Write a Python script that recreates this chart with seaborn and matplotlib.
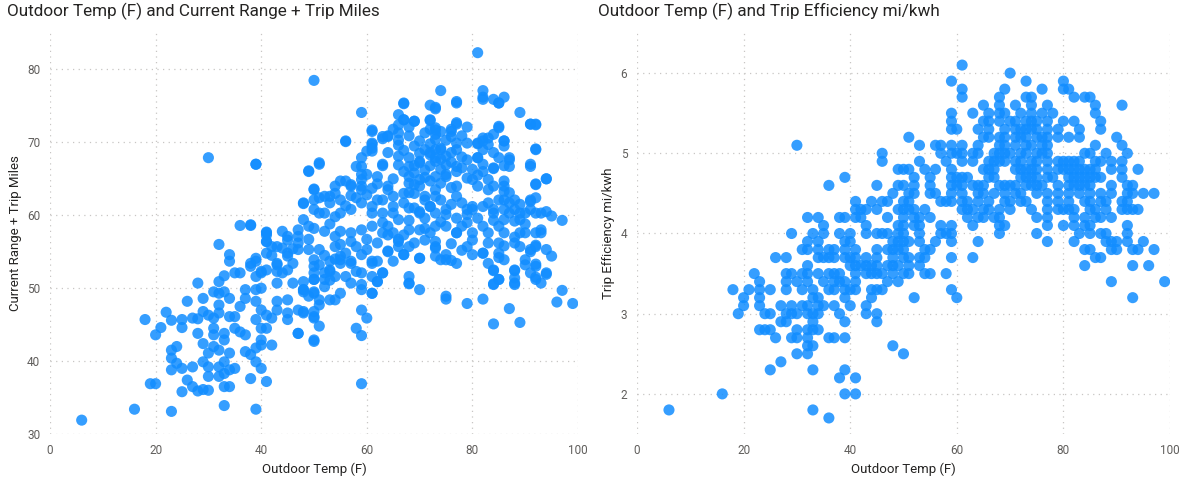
import matplotlib
matplotlib.use("Agg")
import matplotlib.pyplot as plt
import seaborn as sns
import pandas as pd

# ----------------------------------------------------------
# Left chart: outdoor temp vs current range + trip miles
# ----------------------------------------------------------
range_temp = [
    50, 30, 39, 36, 38, 41, 50, 49, 51, 48,
    81, 74, 82, 82, 84, 85, 86, 67, 72, 73, 77, 59, 89, 91, 92, 92, 91, 94, 92, 97, 95, 56,
    67, 73, 77, 82, 85,
    66, 67, 69, 72, 73, 77, 79,
    61, 64, 63, 66, 68, 71, 73, 74, 76, 78,
    85, 84, 82, 81, 79, 86, 86, 56, 91, 92,
    61, 61, 59, 58, 59, 39, 51, 49,
    64, 66, 68, 70, 72, 73, 74, 76, 77, 79,
    81, 84, 85, 87, 87, 84, 82,
    92, 91, 92, 94, 63,
    67, 68, 70, 72, 70, 68,
    73, 75, 77, 79, 80, 80, 82,
    83, 83, 86, 86, 88, 87,
    92, 91, 92, 94,
    55, 57, 59, 61, 62,
    50, 53, 55, 53, 51, 48,
    64, 65, 67, 69, 71, 73,
    59, 61, 57, 55, 54, 51,
    63, 65, 68, 70, 72,
    73, 75, 77, 79, 80, 82, 84, 86, 87, 89,
    48, 49, 47, 45, 43, 41, 41, 38, 39, 38,
    52, 54, 55, 57, 59, 61, 63, 65, 66, 68, 70, 71,
    73, 75, 77, 78, 80, 82, 83, 85, 86, 89, 90, 92, 93,
    49, 51, 54, 56, 58, 60, 62, 64, 66,
    67, 70, 73, 73, 75, 77, 79, 82, 85, 85, 88, 89, 91, 92, 94,
    45, 43, 41, 40, 39, 44, 43, 46, 48, 50,
    50, 52, 53, 55, 57, 59, 61, 62, 63,
    68, 68, 70, 75,
    83, 84, 85, 88, 88, 91, 92, 92, 94, 84,
    57, 59, 61, 53, 55, 52,
    6, 16, 23, 33, 39,
    19, 20, 25, 28, 29, 30,
    26, 27, 27, 23, 24, 23, 24, 23, 25,
    30, 30, 29, 30, 29, 28,
    32, 32, 33, 34, 33, 34, 35, 33, 32, 31,
    34, 33, 31, 31, 33, 34, 35, 35, 36, 37, 37, 38, 39, 40, 42, 39, 40, 38, 41,
    18, 20, 21, 22, 23, 25, 25, 26, 27, 28, 29, 29, 30, 31, 32, 32, 34, 31, 32, 33,
    28, 32, 33, 35, 37, 36, 37, 39, 39, 40, 40, 39, 41, 41, 40, 40,
    32, 34, 34, 36, 38, 39, 40,
    41, 41, 41, 42, 44, 43, 43, 45, 45, 45, 46, 47, 47, 48, 49, 50, 50, 50, 47,
    45, 45, 43, 43, 42, 45, 47, 48, 50, 49,
    59, 59, 60, 58, 59, 50, 51, 50, 48, 50, 47,
    53, 54, 51, 51, 61, 62, 63, 61,
    68, 70,
    75, 79, 82, 84, 87, 89, 96, 97, 99,
    95, 94, 93, 92, 92,
    88, 88, 88, 85, 84, 84, 86, 85, 82,
    90, 90, 91, 92, 93,
    74, 75, 76, 73, 73, 72, 80, 77,
    65, 64, 67, 68, 66, 64,
    57, 55, 55, 53, 53, 51, 50, 50, 48, 48, 50, 52, 54, 56, 58, 59, 59, 61, 62,
    61, 63, 64, 65, 66, 66, 67, 68, 69, 66,
    72, 72, 73, 76, 77, 76, 77,
    81, 82, 83, 85, 86, 87, 86, 84, 82, 83, 81,
    59, 60, 61, 61, 59, 60, 62, 63, 57, 59,
    68, 69, 70, 71, 72, 73, 74, 75, 73, 74, 75, 77, 77,
    81, 81, 84, 86, 87, 86, 88, 86,
    91, 93, 91, 90, 89, 88,
    56, 54, 54, 52, 50, 50, 52,
    63, 64, 65, 67, 68, 69, 70, 71, 72, 73, 74, 75, 77, 78, 79, 80, 83, 84,
    # denser core, read from the crowded middle of the cloud
    69, 70, 71, 72, 73, 74, 75, 76, 70, 69, 72, 75, 78, 78, 71, 69, 74, 76, 67, 66,
    65, 62, 60, 58, 56, 57, 61, 63, 66, 68, 71, 74, 76, 79, 81, 84, 85, 89, 90, 88,
    86, 83, 80, 78, 76, 71, 69, 67, 64, 60, 57, 55, 53, 50, 47, 46, 44, 42, 52, 54,
]
range_miles = [
    78.5, 67.9, 67.0, 58.6, 58.6, 57.7, 63.5, 66.0, 67.0, 61.6,
    82.3, 77.1, 77.1, 76.2, 75.9, 75.4, 76.2, 75.3, 75.1, 74.6, 75.6, 74.1, 74.1, 72.5, 72.4, 69.1, 67.0, 65.0, 64.3, 59.3, 59.9, 70.1,
    75.4, 74.8, 75.4, 75.9, 75.4,
    73.8, 73.1, 72.9, 73.1, 72.0, 72.5, 72.1,
    71.5, 70.9, 70.5, 71.3, 70.9, 71.3, 71.1, 71.5, 71.5, 70.9,
    72.2, 71.1, 70.6, 69.9, 69.9, 70.2, 69.5, 70.2, 72.5, 72.5,
    69.9, 68.8, 67.9, 66.7, 65.6, 67.0, 67.2, 66.1,
    68.6, 68.1, 67.9, 67.4, 68.6, 69.0, 69.0, 68.6, 69.0, 67.6,
    67.9, 68.6, 67.9, 67.6, 66.7, 66.5, 67.0,
    69.0, 66.7, 64.2, 65.0, 67.0,
    66.0, 65.3, 64.9, 64.7, 64.0, 64.4,
    65.3, 65.6, 66.0, 65.1, 66.3, 64.9, 66.0,
    64.9, 63.5, 64.7, 63.3, 62.1, 61.7,
    62.4, 61.9, 60.3, 60.5,
    64.7, 64.2, 63.5, 63.7, 62.1,
    63.6, 62.6, 62.1, 61.7, 62.4, 61.7,
    64.0, 62.6, 63.0, 63.0, 62.1, 62.6,
    61.7, 60.3, 60.8, 60.3, 59.8, 60.3,
    60.3, 60.3, 61.0, 60.5, 61.2,
    60.3, 60.1, 59.6, 60.1, 60.8, 61.2, 60.8, 59.4, 60.3, 60.3,
    59.4, 58.5, 58.0, 57.1, 55.7, 57.3, 56.4, 58.7, 54.1, 53.4,
    57.8, 57.1, 57.8, 57.6, 58.0, 58.5, 57.6, 57.6, 56.7, 58.0, 58.0, 58.2,
    58.5, 58.5, 57.6, 58.5, 57.6, 58.5, 57.6, 58.5, 57.6, 57.6, 57.6, 57.6, 58.0,
    56.7, 55.3, 55.7, 54.8, 55.7, 55.3, 56.2, 55.1, 55.7,
    54.6, 54.1, 55.7, 54.4, 53.9, 53.4, 55.7, 54.8, 56.2, 54.8, 56.2, 55.7, 55.3, 55.7, 55.3,
    54.4, 53.2, 52.5, 52.1, 51.6, 52.1, 50.7, 50.7, 49.8, 49.3,
    53.0, 52.1, 52.5, 53.9, 53.4, 52.1, 53.4, 50.9, 52.1,
    51.6, 50.7, 49.8, 48.9,
    53.4, 52.5, 51.2, 52.5, 50.7, 52.1, 53.0, 51.2, 52.1, 50.5,
    50.7, 49.8, 49.3, 51.1, 49.3, 50.2,
    31.9, 33.4, 33.1, 33.9, 33.4,
    36.9, 36.9, 35.8, 35.9, 36.1, 36.0,
    37.4, 36.5, 39.2, 38.8, 39.7, 40.4, 42.0, 41.5, 39.0,
    37.9, 39.2, 39.9, 41.1, 42.4, 43.8,
    39.2, 37.9, 38.3, 38.8, 36.5, 36.5, 39.0, 39.9, 41.5, 42.0,
    41.1, 42.9, 44.5, 43.6, 43.8, 46.1, 46.1, 44.5, 44.0, 43.6, 41.3, 40.9, 41.8, 42.2, 42.2, 39.9, 39.0, 37.6, 37.2,
    45.7, 43.6, 44.6, 46.7, 45.6, 45.7, 44.6, 48.2, 45.9, 45.8, 46.8, 48.6, 46.3, 45.9, 46.6, 47.7, 48.6, 49.5, 49.3, 49.5,
    50.7, 50.9, 51.7, 52.1, 49.8, 47.5, 48.6, 48.2, 49.8, 50.0, 47.0, 45.7, 46.3, 44.5, 44.5, 42.9,
    56.0, 54.6, 53.7, 52.1, 53.0, 53.7, 52.3,
    57.6, 56.4, 54.8, 55.7, 55.5, 53.4, 52.3, 56.6, 54.8, 52.5, 53.4, 57.1, 55.3, 49.8, 55.3, 53.9, 51.2, 42.9, 43.8,
    48.4, 46.6, 48.2, 47.0, 45.9, 45.7, 47.0, 46.6, 46.1, 48.9,
    36.9, 47.0, 45.9, 44.5, 43.5, 42.7, 44.8, 45.9, 46.8, 46.8, 43.8,
    48.4, 48.4, 47.7, 48.4, 49.3, 50.9, 52.1, 51.6,
    50.6, 54.1,
    48.5, 47.9, 48.5, 45.1, 47.2, 45.3, 48.1, 49.7, 47.9,
    54.4, 51.9, 50.7, 51.5, 53.3,
    52.4, 51.4, 50.5, 51.2, 50.6, 52.4, 53.9, 54.2, 54.8,
    53.9, 53.2, 55.0, 55.9, 57.6,
    53.9, 54.6, 53.8, 56.4, 55.5, 57.6, 56.6, 57.6,
    53.7, 55.0, 54.6, 55.7, 56.4, 57.3,
    53.7, 53.4, 54.4, 53.7, 52.3, 53.2, 52.1, 51.2, 50.9, 49.5, 49.5, 51.2, 51.6, 51.6, 52.3, 50.5, 54.6, 53.7, 53.7,
    71.7, 70.8, 70.8, 71.8, 72.4, 70.3, 73.1, 72.1, 72.9, 69.6,
    73.0, 71.8, 71.7, 71.8, 72.7, 70.8, 69.9,
    69.8, 70.2, 70.6, 72.0, 70.2, 67.9, 66.8, 66.4, 69.0, 69.7, 67.9,
    66.7, 68.8, 69.2, 69.7, 64.9, 65.6, 65.3, 66.8, 64.0, 64.0,
    66.7, 65.8, 67.2, 69.0, 68.3, 70.4, 69.2, 68.1, 67.4, 66.3, 65.3, 66.7, 64.0,
    65.5, 64.0, 64.0, 64.0, 63.1, 62.1, 60.8, 60.8,
    62.1, 60.3, 60.8, 60.3, 59.4, 59.2,
    64.7, 64.0, 63.0, 62.6, 62.1, 60.8, 60.3,
    62.1, 63.5, 61.2, 61.7, 63.1, 61.0, 60.3, 62.6, 61.2, 63.5, 62.1, 60.8, 62.6, 61.7, 60.8, 61.2, 61.7, 60.3,
    69.5, 70.2, 66.2, 66.8, 67.9, 67.7, 66.9, 67.3, 68.5, 66.8, 69.8, 70.3, 68.0, 66.5, 65.2, 64.2, 64.4, 63.8, 68.9, 66.9,
    65.0, 64.3, 62.8, 62.4, 61.3, 62.7, 61.2, 59.0, 59.4, 59.3, 59.6, 59.1, 61.5, 59.0, 59.6, 59.3, 62.1, 61.5, 58.8, 57.0,
    55.8, 56.2, 54.6, 55.2, 56.1, 56.6, 56.2, 57.3, 58.5, 56.7, 56.4, 56.0, 58.8, 58.2, 56.2, 55.4, 57.8, 54.5, 54.5, 54.0,
]

# ----------------------------------------------------------
# Right chart: outdoor temp vs trip efficiency (0.1 steps)
# ----------------------------------------------------------
eff_levels = [6.1, 6.0, 5.9, 5.8, 5.7, 5.6, 5.5, 5.4, 5.3, 5.2, 5.1, 5.0,
              4.9, 4.8, 4.7, 4.6, 4.5, 4.4, 4.3, 4.2, 4.1, 4.0,
              3.9, 3.8, 3.7, 3.6, 3.5, 3.4, 3.3, 3.2, 3.1, 3.0,
              2.9, 2.8, 2.7, 2.6, 2.5, 2.4, 2.3, 2.2, 2.0, 1.8, 1.7]
eff_temps = [
    [61],
    [70],
    [59, 73, 80],
    [61, 69, 76, 80, 81],
    [61, 68, 73, 74, 82, 84, 85],
    [65, 68, 71, 74, 77, 86, 91],
    [59, 63, 66, 68, 69, 72, 74, 76, 78, 86],
    [59, 65, 66, 68, 70, 71, 73, 74, 75, 77, 80, 82, 87],
    [59, 60, 64, 66, 69, 71, 72, 73, 74, 75, 77, 79, 83, 87],
    [51, 65, 66, 68, 69, 71, 72, 73, 75, 76, 77, 79, 81, 83, 90],
    [30, 53, 56, 57, 59, 61, 64, 68, 69, 71, 73, 74, 76, 77, 86, 91],
    [46, 57, 59, 60, 61, 63, 64, 67, 68, 69, 70, 72, 73, 75, 76, 77, 84, 85, 88, 92],
    [46, 53, 58, 61, 63, 66, 67, 68, 69, 71, 72, 74, 75, 77, 79, 80, 81, 82, 83, 86, 87, 89, 91],
    [49, 50, 51, 54, 56, 59, 65, 66, 67, 71, 72, 73, 74, 75, 77, 79, 80, 81, 82, 83, 84, 85, 86, 89, 91, 94],
    [39, 52, 55, 59, 60, 61, 62, 66, 67, 72, 73, 74, 75, 77, 78, 81, 82, 83, 84, 85, 86, 87, 91],
    [36, 45, 49, 50, 52, 55, 59, 60, 61, 63, 64, 65, 68, 69, 70, 71, 73, 74, 75, 76, 79, 81, 82, 83, 84, 85, 89, 92, 93],
    [48, 51, 52, 55, 56, 59, 61, 64, 65, 67, 69, 71, 72, 75, 77, 79, 81, 83, 85, 87, 89, 92, 93, 95, 97],
    [41, 44, 46, 47, 50, 51, 57, 58, 59, 61, 62, 64, 66, 69, 70, 72, 73, 77, 79, 81, 84, 85, 87, 88, 91, 92],
    [41, 42, 43, 45, 49, 50, 51, 52, 54, 61, 62, 63, 65, 66, 68, 70, 74, 77, 79, 80, 81, 82, 85, 86, 88, 91, 92, 93, 94],
    [32, 34, 38, 39, 41, 42, 47, 50, 52, 53, 55, 62, 64, 65, 67, 68, 75, 77, 82, 84, 86, 87, 89],
    [35, 43, 49, 50, 52, 53, 57, 59, 63, 68, 69, 77, 80, 82, 84, 85, 92],
    [29, 33, 35, 38, 40, 43, 45, 46, 47, 49, 50, 53, 57, 58, 59, 68, 75, 83, 85, 87, 88, 92],
    [32, 34, 39, 40, 48, 49, 50, 51, 53, 56, 59, 64, 77, 82, 88, 89, 90, 92, 95],
    [31, 32, 34, 36, 37, 39, 41, 45, 47, 48, 49, 50, 54, 55, 84, 85, 89, 90, 93, 94, 97],
    [26, 28, 34, 35, 36, 37, 39, 40, 41, 43, 45, 48, 50, 51, 53, 54, 59, 63, 86, 87],
    [32, 40, 41, 42, 43, 44, 45, 47, 48, 49, 51, 53, 84, 93, 96],
    [22, 28, 29, 31, 32, 34, 36, 37, 38, 41, 43, 44, 45, 46, 48, 50, 51, 54, 55, 58],
    [23, 28, 30, 32, 35, 37, 38, 39, 41, 47, 49, 89, 99],
    [18, 21, 23, 25, 28, 31, 33, 36, 37, 39, 40, 41, 44, 45, 46, 59],
    [20, 23, 33, 34, 39, 44, 52, 60, 93],
    [20, 23, 27, 29, 31, 32, 34, 35, 37, 40, 43],
    [19, 24, 25, 28, 29, 30, 32, 33, 34, 38, 43, 45],
    [27, 28, 33, 39, 45],
    [23, 24, 25, 30, 32, 33, 34],
    [26, 29, 30, 32, 36, 37, 39],
    [32, 33, 48],
    [30, 32, 50],
    [27],
    [25, 33, 39],
    [38, 41],
    [16, 39, 41],
    [6, 33],
    [36],
]

x_ticks = [0, 20, 40, 60, 80, 100]

df_range = pd.DataFrame({"temp": range_temp, "value": range_miles})
eff_rows = []
for level, temps in zip(eff_levels, eff_temps):
    for t in temps:
        eff_rows.append({"temp": t, "value": level})
df_eff = pd.DataFrame(eff_rows)

sns.set_theme(style="white")
plt.rcParams["font.family"] = ["Roboto", "DejaVu Sans"]

DOT = "#118DFF"
TICK_COLOR = "#605E5C"
LABEL_COLOR = "#252423"

W, H = 1186, 487
fig = plt.figure(figsize=(W / 100, H / 100), dpi=100)
ax1 = fig.add_axes([50 / W, 1 - 434 / H, 528 / W, 401 / H])
ax2 = fig.add_axes([637 / W, 1 - 434 / H, 533 / W, 401 / H])


def style_axis(ax, ylim, yticks, ylabel, title, title_x):
    ax.set_xlim(0, 100)
    ax.set_ylim(*ylim)
    ax.set_xticks(x_ticks)
    ax.set_yticks(yticks)
    for s in ax.spines.values():
        s.set_visible(False)
    ax.grid(True, color="#C8C6C4", linewidth=0.9, linestyle=(0, (1, 3.5)))
    ax.set_axisbelow(True)
    ax.tick_params(length=0, labelsize=8.5, labelcolor=TICK_COLOR, pad=7)
    ax.set_xlabel("Outdoor Temp (F)", fontsize=9.5, color=LABEL_COLOR, labelpad=4)
    ax.set_ylabel(ylabel, fontsize=9.5, color=LABEL_COLOR, labelpad=4)
    fig.text(title_x / W, 1 - 11 / H, title, fontsize=12.3, color=LABEL_COLOR,
             ha="left", va="center")


sns.scatterplot(data=df_range, x="temp", y="value", ax=ax1, color=DOT,
                s=64, alpha=0.85, edgecolor="none", linewidth=0)
style_axis(ax1, (30, 85), [30, 40, 50, 60, 70, 80],
           "Current Range + Trip Miles",
           "Outdoor Temp (F) and Current Range + Trip Miles", 7)

sns.scatterplot(data=df_eff, x="temp", y="value", ax=ax2, color=DOT,
                s=64, alpha=0.85, edgecolor="none", linewidth=0)
style_axis(ax2, (1.5, 6.5), [2, 3, 4, 5, 6],
           "Trip Efficiency mi/kwh",
           "Outdoor Temp (F) and Trip Efficiency mi/kwh", 598)

fig.savefig("out.png", dpi=100)
